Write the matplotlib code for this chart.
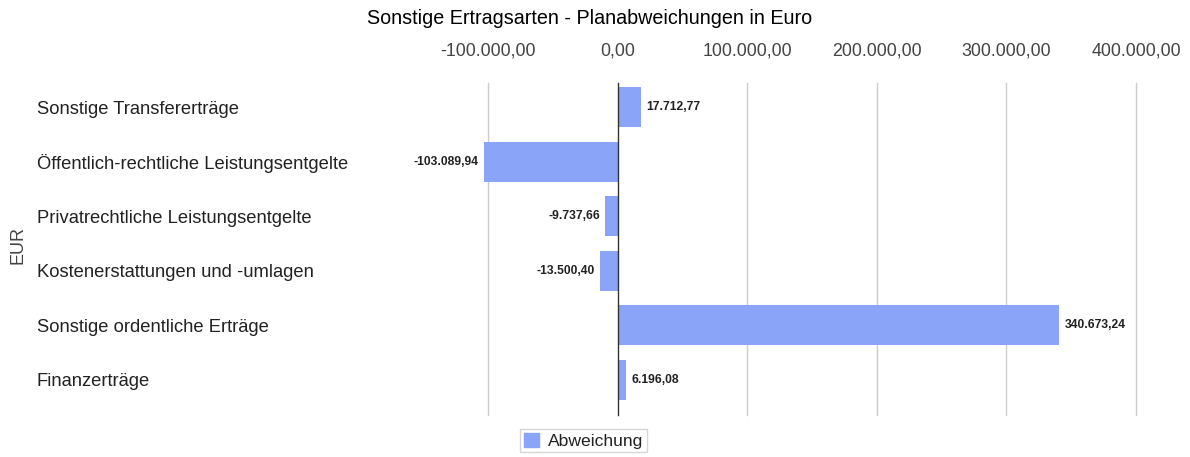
import matplotlib
matplotlib.use("Agg")
import matplotlib.pyplot as plt
from matplotlib.patches import Patch

plt.rcParams['font.family'] = ['Liberation Sans', 'DejaVu Sans']

categories = [
    "Sonstige Transfererträge",
    "Öffentlich-rechtliche Leistungsentgelte",
    "Privatrechtliche Leistungsentgelte",
    "Kostenerstattungen und -umlagen",
    "Sonstige ordentliche Erträge",
    "Finanzerträge",
]
values = [17712.77, -103089.94, -9737.66, -13500.40, 340673.24, 6196.08]
xticks = [-100000, 0, 100000, 200000, 300000, 400000]
title = "Sonstige Ertragsarten - Planabweichungen in Euro"
series_name = "Abweichung"
ylabel = "EUR"

def de_fmt(v):
    s = f"{v:,.2f}"
    return s.replace(",", "X").replace(".", ",").replace("X", ".")

W, H = 1190, 457
fig = plt.figure(figsize=(W / 100, H / 100), dpi=100)
left, right, top, bottom = 484, 1136, 80, 407
ax = fig.add_axes([left / W, 1 - bottom / H, (right - left) / W, (bottom - top) / H])

bar_color = "#8aa4f8"
y = list(range(len(categories)))
ax.barh(y, values, height=0.73, color=bar_color, zorder=3)
ax.set_ylim(len(categories) - 0.5, -0.5)
ax.set_xlim(-103400, 400000)

for s in ax.spines.values():
    s.set_visible(False)

ax.xaxis.tick_top()
ax.set_xticks(xticks)
ax.set_xticklabels([de_fmt(v) for v in xticks], fontsize=12.8, color="#444444")
ax.tick_params(axis='x', length=0, pad=15)
for xv in xticks:
    ax.axvline(xv, color="#cccccc" if xv != 0 else "#333333", lw=1, zorder=1 if xv != 0 else 4,
               ymin=-0.025, ymax=0.99, clip_on=False)

ax.set_yticks(y)
ax.set_yticklabels(categories, fontsize=13.2, color="#222222", ha='left')
ax.tick_params(axis='y', length=0, pad=(left - 37) * 0.72)

for yi, v in zip(y, values):
    if v >= 0:
        ax.annotate(de_fmt(v), (v, yi), xytext=(4, 0), textcoords='offset points',
                    ha='left', va='center', fontsize=8.7, fontweight='bold', color="#222222")
    else:
        ax.annotate(de_fmt(v), (v, yi), xytext=(-4, 0), textcoords='offset points',
                    ha='right', va='center', fontsize=8.7, fontweight='bold', color="#222222")

fig.text(590 / W, 1 - 18 / H, title, ha='center', va='center', fontsize=14.2, color="#000000")
fig.text(18 / W, 1 - 245 / H, ylabel, ha='center', va='center', rotation=90, fontsize=13, color="#444444")

handles = [Patch(facecolor=bar_color, edgecolor=bar_color, label=series_name)]
fig.legend(handles=handles, loc='upper left', bbox_to_anchor=(520 / W, 1 - 429 / H),
           borderaxespad=0, frameon=True, fancybox=False, edgecolor="#cccccc", fontsize=12.6,
           handlelength=0.9, handleheight=0.9, handletextpad=0.5, borderpad=0.2,
           labelcolor="#222222")

fig.savefig("out.png", dpi=100)
